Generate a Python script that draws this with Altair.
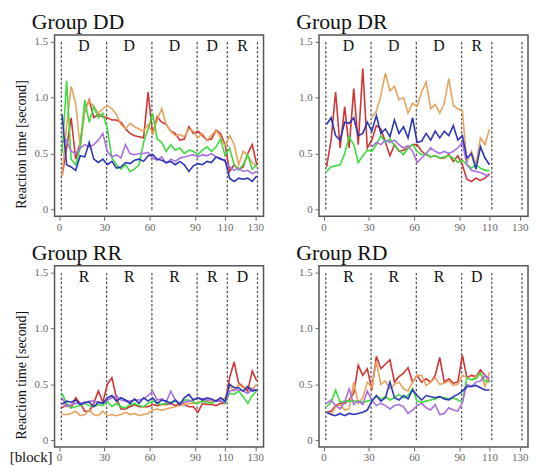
import altair as alt
import pandas as pd

# ---------------- data ----------------
BLOCKS_130 = [2, 5, 8, 11, 14, 17, 20, 23, 26, 29, 32, 35, 38, 41, 44, 47, 50, 53, 56, 59, 62, 65,
              68, 71, 74, 77, 80, 83, 86, 89, 92, 95, 98, 101, 104, 107, 110, 113, 116, 119, 122, 125, 128, 131]
BLOCKS_110 = [2, 5, 8, 11, 14, 17, 20, 23, 26, 29, 32, 35, 38, 41, 44, 47, 50, 53, 56, 59, 62, 65,
              68, 71, 74, 77, 80, 83, 86, 89, 92, 95, 98, 101, 104, 107, 110]
BLOCKS_110_LATE = [32, 35, 38, 41, 44, 47, 50, 53, 56, 59, 62, 65, 68, 71, 74, 77, 80, 83, 86, 89,
                   92, 95, 98, 101, 104, 107, 110]

SERIES = ["red", "orange", "green", "purple", "blue"]
COLORS = ["#d23434", "#e8a35f", "#3ddc3d", "#a96ee0", "#2b36b8"]

# Group DD
DD_RED = [0.30, 0.55, 0.82, 0.45, 0.60, 0.88, 0.98, 0.82, 0.85, 0.83, 0.82, 0.80, 0.80, 0.78, 0.72,
          0.68, 0.66, 0.65, 0.64, 1.05, 0.67, 0.83, 0.78, 0.76, 0.70, 0.68, 0.62, 0.63, 0.74, 0.68,
          0.70, 0.66, 0.62, 0.63, 0.71, 0.68, 0.58, 0.34, 0.40, 0.36, 0.38, 0.50, 0.58, 0.40]
DD_ORANGE = [0.30, 0.75, 1.10, 0.95, 0.55, 0.88, 0.97, 0.92, 0.86, 0.90, 0.93, 0.90, 0.85, 0.76, 0.72,
             0.77, 0.74, 0.72, 0.70, 0.76, 0.68, 0.80, 0.90, 0.76, 0.70, 0.66, 0.67, 0.65, 0.72, 0.70,
             0.64, 0.68, 0.62, 0.66, 0.71, 0.64, 0.57, 0.66, 0.58, 0.40, 0.52, 0.48, 0.42, 0.38]
DD_GREEN = [0.50, 1.15, 0.45, 0.40, 0.55, 0.98, 0.78, 0.92, 0.82, 0.86, 0.72, 0.46, 0.40, 0.36, 0.40,
            0.34, 0.36, 0.40, 0.60, 0.72, 0.86, 0.63, 0.60, 0.52, 0.58, 0.53, 0.55, 0.50, 0.53, 0.52,
            0.49, 0.53, 0.56, 0.52, 0.56, 0.63, 0.48, 0.55, 0.40, 0.35, 0.40, 0.49, 0.36, 0.40]
DD_PURPLE = [0.60, 0.62, 0.52, 0.50, 0.55, 0.58, 0.56, 0.58, 0.62, 0.68, 0.52, 0.47, 0.49, 0.46, 0.58,
             0.50, 0.49, 0.50, 0.50, 0.51, 0.46, 0.44, 0.47, 0.41, 0.45, 0.43, 0.46, 0.47, 0.48, 0.49,
             0.47, 0.49, 0.48, 0.50, 0.47, 0.46, 0.43, 0.38, 0.35, 0.37, 0.34, 0.35, 0.32, 0.34]
DD_BLUE = [0.85, 0.40, 0.38, 0.35, 0.48, 0.47, 0.60, 0.45, 0.42, 0.45, 0.40, 0.43, 0.37, 0.38, 0.42,
           0.41, 0.44, 0.45, 0.43, 0.48, 0.49, 0.45, 0.44, 0.42, 0.43, 0.40, 0.43, 0.40, 0.34, 0.39,
           0.41, 0.40, 0.43, 0.42, 0.47, 0.45, 0.44, 0.28, 0.25, 0.28, 0.27, 0.28, 0.25, 0.30]

# Group DR (orange and purple start in session 2)
DR_RED = [0.38, 0.62, 1.05, 0.55, 0.92, 0.55, 1.08, 0.58, 1.26, 0.55, 0.62, 0.75, 0.72, 0.60, 0.48,
          0.58, 0.52, 0.53, 0.55, 0.58, 0.58, 0.52, 0.49, 0.47, 0.48, 0.46, 0.46, 0.49, 0.43, 0.48,
          0.40, 0.27, 0.25, 0.28, 0.26, 0.28, 0.32]
DR_ORANGE = [0.82, 0.88, 1.02, 1.22, 1.06, 1.10, 0.98, 1.00, 0.86, 0.95, 0.92, 1.05, 1.14, 0.90,
             0.94, 0.86, 0.95, 1.17, 0.93, 0.90, 0.88, 0.42, 0.52, 0.40, 0.64, 0.58, 0.72]
DR_GREEN = [0.34, 0.38, 0.39, 0.40, 0.50, 0.65, 0.58, 0.42, 0.48, 0.53, 0.52, 0.58, 0.66, 0.60, 0.63,
            0.57, 0.53, 0.49, 0.55, 0.58, 0.52, 0.49, 0.50, 0.47, 0.48, 0.46, 0.47, 0.48, 0.46, 0.42,
            0.44, 0.40, 0.37, 0.40, 0.37, 0.35, 0.35]
DR_PURPLE = [0.56, 0.60, 0.58, 0.62, 0.60, 0.62, 0.58, 0.55, 0.57, 0.52, 0.42, 0.46, 0.50, 0.55,
             0.52, 0.50, 0.52, 0.50, 0.52, 0.55, 0.60, 0.40, 0.35, 0.34, 0.33, 0.31, 0.30]
DR_BLUE = [0.76, 0.82, 0.66, 0.62, 0.78, 0.77, 0.82, 0.66, 0.68, 0.78, 0.70, 0.84, 0.68, 0.72, 0.65,
           0.80, 0.68, 0.74, 0.64, 0.82, 0.60, 0.61, 0.68, 0.62, 0.70, 0.64, 0.70, 0.66, 0.75, 0.62,
           0.66, 0.46, 0.50, 0.36, 0.56, 0.46, 0.40]

# Group RR
RR_RED = [0.29, 0.32, 0.29, 0.38, 0.33, 0.26, 0.26, 0.33, 0.44, 0.34, 0.50, 0.56, 0.38, 0.28, 0.28,
          0.30, 0.32, 0.30, 0.30, 0.30, 0.32, 0.31, 0.32, 0.32, 0.33, 0.31, 0.33, 0.32, 0.30, 0.30,
          0.25, 0.33, 0.32, 0.32, 0.31, 0.33, 0.33, 0.56, 0.70, 0.51, 0.48, 0.44, 0.62, 0.53]
RR_ORANGE = [0.23, 0.23, 0.24, 0.26, 0.22, 0.23, 0.27, 0.23, 0.22, 0.26, 0.22, 0.23, 0.22, 0.23, 0.25,
             0.23, 0.24, 0.22, 0.23, 0.24, 0.27, 0.28, 0.27, 0.28, 0.29, 0.30, 0.31, 0.32, 0.33, 0.33,
             0.34, 0.35, 0.35, 0.34, 0.36, 0.36, 0.38, 0.48, 0.44, 0.50, 0.47, 0.48, 0.46, 0.50]
RR_GREEN = [0.42, 0.33, 0.29, 0.30, 0.31, 0.33, 0.31, 0.30, 0.32, 0.31, 0.35, 0.30, 0.33, 0.30, 0.29,
            0.32, 0.33, 0.31, 0.30, 0.33, 0.35, 0.33, 0.32, 0.33, 0.34, 0.35, 0.33, 0.36, 0.36, 0.34,
            0.33, 0.35, 0.34, 0.33, 0.35, 0.35, 0.33, 0.42, 0.41, 0.44, 0.39, 0.33, 0.40, 0.44]
RR_PURPLE = [0.38, 0.30, 0.32, 0.33, 0.33, 0.33, 0.35, 0.35, 0.34, 0.33, 0.36, 0.38, 0.40, 0.36, 0.35,
             0.35, 0.36, 0.36, 0.37, 0.40, 0.44, 0.36, 0.37, 0.34, 0.44, 0.36, 0.33, 0.34, 0.35, 0.36,
             0.38, 0.37, 0.36, 0.36, 0.35, 0.35, 0.34, 0.44, 0.45, 0.45, 0.44, 0.42, 0.46, 0.45]
RR_BLUE = [0.32, 0.35, 0.34, 0.36, 0.32, 0.34, 0.34, 0.30, 0.34, 0.33, 0.38, 0.40, 0.35, 0.38, 0.36,
           0.33, 0.37, 0.33, 0.38, 0.35, 0.38, 0.33, 0.36, 0.35, 0.33, 0.36, 0.32, 0.38, 0.41, 0.36,
           0.38, 0.36, 0.38, 0.37, 0.35, 0.38, 0.35, 0.50, 0.47, 0.47, 0.44, 0.48, 0.44, 0.45]

# Group RD
RD_RED = [0.25, 0.26, 0.31, 0.33, 0.33, 0.36, 0.42, 0.67, 0.58, 0.64, 0.45, 0.75, 0.64, 0.68, 0.72,
          0.52, 0.57, 0.60, 0.65, 0.52, 0.58, 0.52, 0.55, 0.52, 0.58, 0.74, 0.52, 0.55, 0.51, 0.52,
          0.76, 0.56, 0.58, 0.57, 0.63, 0.58, 0.52]
RD_ORANGE = [0.26, 0.23, 0.30, 0.32, 0.27, 0.28, 0.52, 0.33, 0.38, 0.52, 0.47, 0.70, 0.50, 0.53, 0.46,
             0.50, 0.52, 0.46, 0.44, 0.52, 0.58, 0.58, 0.49, 0.52, 0.56, 0.50, 0.51, 0.53, 0.49, 0.50,
             0.58, 0.56, 0.54, 0.57, 0.60, 0.48, 0.61]
RD_GREEN = [0.30, 0.34, 0.45, 0.34, 0.35, 0.35, 0.35, 0.35, 0.34, 0.35, 0.36, 0.39, 0.37, 0.39, 0.36,
            0.38, 0.41, 0.38, 0.40, 0.46, 0.35, 0.34, 0.35, 0.36, 0.37, 0.39, 0.38, 0.37, 0.38, 0.36,
            0.34, 0.56, 0.54, 0.55, 0.60, 0.53, 0.52]
RD_PURPLE = [0.33, 0.36, 0.31, 0.28, 0.34, 0.46, 0.32, 0.35, 0.32, 0.44, 0.36, 0.31, 0.33, 0.31, 0.28,
             0.31, 0.32, 0.30, 0.24, 0.27, 0.31, 0.33, 0.29, 0.27, 0.32, 0.23, 0.24, 0.29, 0.27, 0.26,
             0.34, 0.50, 0.48, 0.52, 0.53, 0.58, 0.55]
RD_BLUE = [0.25, 0.23, 0.22, 0.24, 0.22, 0.24, 0.23, 0.24, 0.25, 0.27, 0.35, 0.40, 0.35, 0.38, 0.52,
           0.38, 0.36, 0.40, 0.37, 0.45, 0.40, 0.36, 0.40, 0.39, 0.38, 0.39, 0.37, 0.36, 0.39, 0.41,
           0.44, 0.48, 0.48, 0.49, 0.47, 0.45, 0.45]

SESSION_BOUNDS = [1.5, 31.5, 61.5, 91.5, 111.5, 131.5]
SESSION_CENTERS_5 = [16.5, 46.5, 76.5, 101.5, 121.5]
SESSION_CENTERS_4 = [16.5, 46.5, 76.5, 101.5]
LABELS_DD = ["D", "D", "D", "D", "R"]
LABELS_DR = ["D", "D", "D", "R"]
LABELS_RR = ["R", "R", "R", "R", "D"]
LABELS_RD = ["R", "R", "R", "D"]

X_TICKS = [0, 30, 60, 90, 110, 130]
Y_TICKS = [0, 0.5, 1.0, 1.5]

FONT = "Liberation Serif"
W, H = 211, 183
XDOM = [-3, 135.5]
YDOM = [-0.06, 1.56]


def panel(title, series, centers, labels, left, bottom_left=False):
    rows = []
    for name, blocks, vals in series:
        for b, v in zip(blocks, vals):
            rows.append({"block": b, "rt": v, "series": name})
    df = pd.DataFrame(rows)
    xs = alt.Scale(domain=XDOM, nice=False, zero=False)
    ys = alt.Scale(domain=YDOM, nice=False, zero=False)
    xaxis = alt.Axis(values=X_TICKS, title=None, grid=False, domain=False, tickSize=4,
                     tickColor="#666", labelColor="#666", labelFontSize=11, labelFont=FONT,
                     labelPadding=1, labelFlush=False)
    yaxis = alt.Axis(values=Y_TICKS, grid=False, domain=False, tickSize=4, tickColor="#666",
                     labelColor="#666", labelFontSize=11, labelFont=FONT, labelPadding=3,
                     labelExpr="datum.value == 0 ? '0' : format(datum.value, '.1f')",
                     title="Reaction time [second]" if left else None,
                     titleFont=FONT, titleFontSize=14, titleFontWeight="normal",
                     titleColor="#111", titlePadding=6, titleY=110)
    rules_df = pd.DataFrame({"x": SESSION_BOUNDS, "y0": [0] * 6, "y1": [1.5] * 6})
    rules = alt.Chart(rules_df).mark_rule(color="#555", strokeDash=[2.5, 2], strokeWidth=1.3).encode(
        x=alt.X("x:Q", scale=xs, axis=xaxis),
        y=alt.Y("y0:Q", scale=ys, axis=yaxis),
        y2="y1:Q",
    )
    lab_df = pd.DataFrame({"x": centers, "lab": labels, "y": [1.46] * len(labels)})
    texts = alt.Chart(lab_df).mark_text(font=FONT, fontSize=16, color="#111", baseline="middle").encode(
        x=alt.X("x:Q", scale=xs), y=alt.Y("y:Q", scale=ys), text="lab:N")
    lines = alt.Chart(df).mark_line(strokeWidth=1.6).encode(
        x=alt.X("block:Q", scale=xs),
        y=alt.Y("rt:Q", scale=ys),
        color=alt.Color("series:N", scale=alt.Scale(domain=SERIES, range=COLORS), legend=None),
        detail="series:N",
    )
    layers = [rules, texts, lines]
    if bottom_left:
        bl = alt.Chart(pd.DataFrame({"t": ["[block]"]})).mark_text(
            font=FONT, fontSize=15, color="#111", align="right", baseline="top").encode(
            x=alt.value(-2), y=alt.value(H + 3), text="t:N")
        layers.append(bl)
    return alt.layer(*layers).properties(
        width=W, height=H,
        title=alt.TitleParams(title, anchor="start", frame="group", dx=-23, fontSize=22,
                              font=FONT, fontWeight="normal", color="#111", offset=1),
    )


p_dd = panel("Group DD", [("red", BLOCKS_130, DD_RED), ("orange", BLOCKS_130, DD_ORANGE),
                          ("green", BLOCKS_130, DD_GREEN), ("purple", BLOCKS_130, DD_PURPLE),
                          ("blue", BLOCKS_130, DD_BLUE)], SESSION_CENTERS_5, LABELS_DD, True)
p_dr = panel("Group DR", [("red", BLOCKS_110, DR_RED), ("orange", BLOCKS_110_LATE, DR_ORANGE),
                          ("green", BLOCKS_110, DR_GREEN), ("purple", BLOCKS_110_LATE, DR_PURPLE),
                          ("blue", BLOCKS_110, DR_BLUE)], SESSION_CENTERS_4, LABELS_DR, False)
p_rr = panel("Group RR", [("red", BLOCKS_130, RR_RED), ("orange", BLOCKS_130, RR_ORANGE),
                          ("green", BLOCKS_130, RR_GREEN), ("purple", BLOCKS_130, RR_PURPLE),
                          ("blue", BLOCKS_130, RR_BLUE)], SESSION_CENTERS_5, LABELS_RR, True, True)
p_rd = panel("Group RD", [("red", BLOCKS_110, RD_RED), ("orange", BLOCKS_110, RD_ORANGE),
                          ("green", BLOCKS_110, RD_GREEN), ("purple", BLOCKS_110, RD_PURPLE),
                          ("blue", BLOCKS_110, RD_BLUE)], SESSION_CENTERS_4, LABELS_RD, False)

chart = alt.vconcat(
    alt.hconcat(p_dd, p_dr, spacing=31),
    alt.hconcat(p_rr, p_rd, spacing=31),
    spacing=8,
).properties(
    padding={"left": 0, "top": 0, "right": 0, "bottom": 0}
).configure(
    font=FONT, background="white",
    view=alt.ViewConfig(stroke="#555", strokeWidth=1.5),
)

chart.save("out.html", embed_options={"renderer": "svg", "actions": False})
